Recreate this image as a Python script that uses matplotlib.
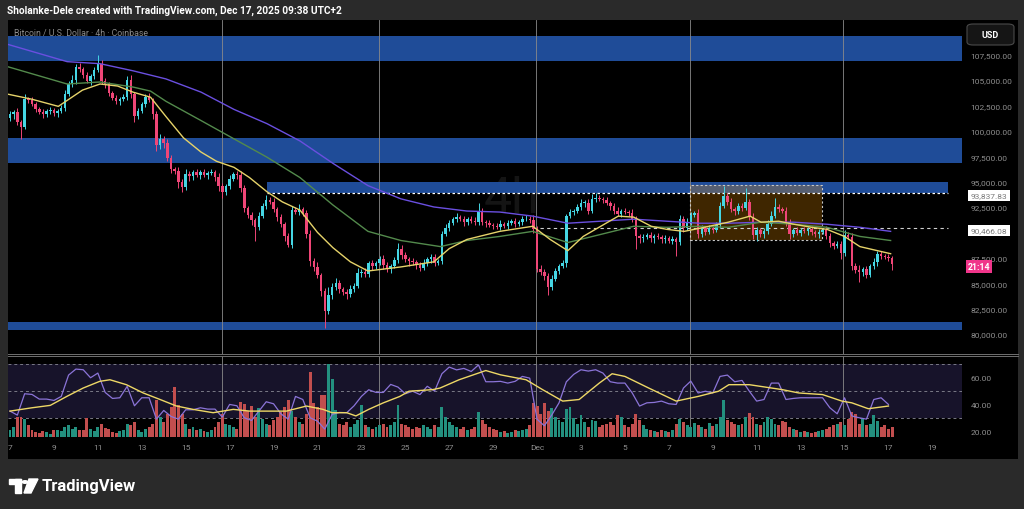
import numpy as np
import matplotlib
matplotlib.use("Agg")
import matplotlib.pyplot as plt
from matplotlib.patches import Rectangle, FancyBboxPatch, Circle, Polygon
from matplotlib.lines import Line2D

plt.rcParams['font.family'] = ['Roboto', 'DejaVu Sans']

W, H = 1024, 510

# ---- 4h candles, Nov 7 -> Dec 17 (closes in $k, wicks in $100) ----
first_open = 101.3
closes = [
    101.6, 101.8, 100.9, 100.4, 103.1, 103.0, 102.6, 102.1, 101.8, 101.6, 101.9, 102.0, 101.7, 101.9, 102.2, 103.6, 104.6, 105.0, 106.3, 106.1,
    105.5, 104.9, 105.4, 106.0, 106.6, 104.9, 104.6, 103.7, 103.2, 102.9, 103.1, 103.3, 105.0, 103.6, 101.5, 101.9, 102.6, 103.3, 103.0, 101.6,
    98.6, 99.2, 98.8, 97.3, 96.2, 96.0, 95.0, 94.5, 95.7, 95.5, 95.9, 95.6, 95.9, 95.6, 95.8, 95.9, 95.4, 94.6, 94.0, 94.6,
    95.3, 95.7, 95.6, 94.4, 92.4, 91.7, 91.2, 90.5, 91.6, 92.6, 93.2, 93.0, 92.3, 91.5, 90.8, 89.6, 88.8, 92.2, 92.0, 92.3,
    91.9, 89.8, 87.2, 86.6, 85.8, 84.2, 82.3, 83.8, 84.6, 85.0, 84.4, 84.1, 83.9, 84.4, 84.7, 86.0, 86.1, 85.9, 87.0, 86.7,
    87.0, 87.4, 86.8, 86.4, 86.7, 87.3, 88.4, 87.8, 87.4, 87.2, 87.1, 86.8, 86.5, 87.0, 87.4, 87.6, 87.0, 87.2, 89.8, 90.4,
    90.9, 91.3, 91.5, 91.3, 91.0, 91.3, 91.1, 91.0, 92.1, 91.0, 90.9, 90.7, 90.6, 90.5, 90.8, 90.6, 90.9, 91.1, 90.8, 91.0,
    91.3, 91.3, 91.2, 90.3, 86.4, 86.1, 85.7, 84.6, 85.4, 86.2, 86.7, 87.0, 91.6, 92.0, 92.1, 92.5, 92.9, 92.9, 92.1, 93.3,
    93.4, 93.3, 93.2, 92.9, 92.6, 92.1, 91.8, 92.1, 92.0, 91.9, 91.3, 89.6, 89.4, 89.5, 89.7, 89.4, 89.6, 89.5, 89.3, 89.4,
    89.2, 89.3, 89.1, 91.3, 90.4, 91.0, 91.7, 91.9, 89.8, 90.4, 90.0, 90.4, 90.2, 90.7, 92.6, 93.6, 93.0, 92.3, 92.1, 92.6,
    92.4, 93.0, 91.5, 89.7, 90.2, 89.8, 90.1, 90.8, 91.6, 92.5, 92.3, 92.1, 91.0, 89.8, 90.2, 89.9, 90.2, 90.1, 90.3, 90.0,
    89.8, 90.0, 90.2, 89.6, 89.0, 88.7, 88.9, 88.0, 89.7, 89.5, 86.7, 86.3, 86.1, 86.4, 85.8, 86.7, 87.1, 87.9, 87.7, 87.6,
    87.5, 86.9,
]
wick_up = [
    3, 2, 4, 2, 5, 2, 3, 2, 2, 3, 2, 3, 2, 2, 3, 4, 3, 5, 3, 4,
    2, 3, 2, 3, 9, 4, 3, 2, 2, 3, 2, 3, 4, 5, 2, 3, 2, 3, 4, 2,
    3, 5, 3, 4, 3, 2, 4, 3, 5, 3, 2, 3, 2, 3, 2, 3, 2, 4, 3, 2,
    3, 2, 3, 4, 3, 2, 3, 2, 4, 3, 5, 3, 4, 2, 3, 2, 3, 4, 3, 5,
    2, 3, 4, 3, 5, 2, 3, 8, 4, 5, 3, 2, 3, 4, 3, 5, 3, 4, 2, 3,
    2, 3, 4, 3, 2, 3, 6, 4, 3, 2, 3, 2, 3, 4, 2, 3, 3, 2, 3, 4,
    3, 2, 4, 2, 3, 2, 3, 4, 8, 3, 2, 3, 2, 3, 4, 2, 3, 2, 3, 2,
    3, 4, 3, 5, 3, 4, 3, 3, 4, 3, 2, 3, 2, 3, 2, 3, 4, 3, 4, 5,
    5, 3, 2, 3, 2, 3, 4, 2, 3, 2, 4, 3, 2, 3, 2, 3, 2, 3, 2, 3,
    2, 3, 2, 4, 3, 4, 3, 2, 4, 3, 2, 3, 2, 3, 4, 10, 3, 4, 2, 3,
    3, 14, 3, 4, 3, 2, 3, 4, 5, 9, 3, 2, 4, 3, 2, 3, 2, 3, 2, 3,
    2, 3, 2, 4, 3, 2, 3, 3, 5, 3, 4, 3, 5, 2, 3, 2, 4, 3, 3, 2,
    3, 2,
]
wick_dn = [
    3, 4, 3, 12, 2, 3, 2, 3, 2, 3, 2, 3, 2, 3, 2, 3, 2, 3, 4, 3,
    3, 2, 4, 3, 2, 3, 4, 3, 2, 3, 4, 2, 3, 4, 6, 3, 2, 3, 2, 4,
    6, 4, 5, 3, 4, 3, 6, 5, 3, 4, 3, 2, 3, 2, 3, 2, 3, 5, 6, 3,
    3, 2, 3, 4, 4, 3, 5, 13, 3, 2, 3, 2, 3, 4, 3, 4, 2, 3, 2, 3,
    3, 4, 5, 4, 3, 5, 17, 3, 4, 3, 4, 3, 5, 3, 3, 2, 4, 3, 3, 4,
    3, 2, 4, 3, 4, 2, 3, 4, 3, 5, 3, 4, 3, 2, 3, 4, 3, 2, 3, 2,
    3, 2, 3, 2, 4, 3, 2, 3, 3, 3, 4, 2, 3, 2, 3, 2, 3, 2, 3, 2,
    3, 2, 3, 4, 3, 3, 4, 8, 3, 2, 3, 2, 4, 2, 3, 2, 3, 4, 3, 2,
    3, 2, 3, 2, 4, 3, 2, 3, 2, 3, 3, 12, 4, 3, 2, 3, 4, 2, 3, 3,
    2, 3, 14, 3, 4, 2, 3, 2, 4, 3, 3, 2, 3, 2, 3, 2, 3, 3, 4, 3,
    3, 2, 3, 4, 5, 3, 4, 3, 2, 2, 3, 2, 4, 5, 3, 2, 3, 2, 4, 3,
    3, 4, 2, 3, 4, 3, 2, 6, 3, 2, 4, 3, 10, 4, 3, 2, 3, 4, 3, 2,
    3, 6,
]
volume = [
    20, 30, 60, 62, 55, 35, 20, 15, 12, 18, 15, 10, 20, 22, 18, 30, 35, 25, 30, 20,
    22, 57, 25, 18, 30, 40, 28, 25, 15, 12, 18, 20, 40, 35, 45, 20, 15, 25, 30, 40,
    112, 60, 45, 70, 90, 150, 97, 70, 40, 25, 30, 20, 25, 18, 15, 20, 30, 45, 70, 40,
    35, 30, 25, 107, 100, 80, 95, 60, 87, 55, 40, 35, 50, 60, 75, 90, 112, 80, 60, 45,
    40, 70, 197, 102, 90, 127, 127, 220, 174, 82, 40, 35, 45, 30, 40, 50, 97, 35, 30, 25,
    30, 35, 40, 30, 35, 45, 97, 40, 35, 30, 25, 30, 28, 35, 30, 25, 35, 30, 92, 60,
    45, 35, 30, 25, 30, 20, 25, 30, 77, 50, 40, 30, 25, 20, 15, 18, 12, 15, 20, 18,
    20, 25, 35, 102, 95, 70, 102, 80, 88, 60, 50, 45, 85, 92, 57, 40, 67, 45, 30, 50,
    47, 30, 35, 40, 45, 35, 67, 60, 35, 30, 40, 70, 50, 35, 25, 20, 18, 15, 20, 18,
    15, 20, 40, 55, 45, 35, 30, 42, 35, 30, 25, 42, 32, 40, 60, 112, 50, 45, 40, 35,
    38, 62, 72, 60, 40, 35, 45, 62, 55, 40, 35, 47, 45, 30, 25, 20, 15, 18, 15, 12,
    15, 18, 20, 25, 30, 35, 40, 45, 35, 55, 77, 70, 40, 57, 35, 40, 67, 47, 30, 35,
    25, 30,
]

# ---- moving averages (day since Nov 7, $k) ----
ma_fast_day = [-0.1, 1.0, 2.2, 3.3, 4.1, 4.9, 5.6, 6.4, 7.1, 7.9, 8.7, 9.4, 10.2, 10.9, 11.7, 12.4, 13.2, 14.0, 14.7, 15.5,
               16.3, 17.8, 19.3, 20.0, 20.8, 22.3, 23.8, 24.6, 25.4, 26.1, 26.9, 27.7, 28.4, 29.2, 29.9, 30.7, 31.4, 32.7,
               33.7, 34.2, 35.0, 35.7, 36.5, 37.2, 38.0, 38.7, 40.1]
ma_fast = [103.6, 103.1, 102.4, 104.0, 104.6, 104.4, 103.8, 103.3, 101.4, 99.3, 97.9, 97.0, 96.4, 95.4, 94.0, 93.0, 92.2,
           90.0, 88.5, 87.1, 86.2, 86.6, 87.1, 88.4, 89.3, 90.1, 90.6, 89.3, 88.2, 89.6, 90.6, 91.6, 91.5, 90.6, 90.3, 90.1,
           90.4, 91.0, 91.6, 91.0, 91.1, 90.8, 90.5, 90.3, 89.6, 88.6, 87.9]
ma_mid_day = [-0.1, 2.6, 4.1, 5.6, 6.4, 7.1, 8.7, 10.2, 11.7, 13.2, 14.7, 16.3, 17.8, 19.6, 20.8, 22.3, 23.8, 25.4, 26.9,
              28.4, 29.9, 31.4, 32.7, 34.2, 35.7, 37.2, 38.7, 40.1]
ma_mid = [106.3, 104.6, 104.8, 104.3, 103.9, 102.9, 101.0, 99.2, 97.4, 95.4, 92.7, 90.1, 89.2, 88.6, 89.2, 89.6, 90.1,
          89.0, 89.8, 90.6, 90.5, 90.6, 90.5, 91.0, 90.8, 90.5, 89.6, 89.2]
ma_slow_day = [-0.1, 2.6, 4.1, 5.6, 7.1, 8.7, 10.2, 11.7, 13.2, 14.7, 16.3, 17.8, 19.3, 20.8, 22.3, 23.8, 25.4, 26.9, 28.4,
               29.9, 31.4, 32.7, 34.2, 35.7, 37.2, 38.7, 40.1]
ma_slow = [108.5, 106.8, 106.6, 105.9, 105.1, 103.8, 102.1, 100.7, 99.0, 96.8, 94.6, 93.3, 92.5, 92.1, 92.0, 91.6, 90.9,
           91.1, 91.3, 91.1, 90.9, 90.9, 91.0, 91.0, 90.8, 90.5, 90.1]

# ---- RSI (every 2nd candle) and its MA (candle index) ----
rsi = [35, 32, 48, 47.5, 44, 44, 43, 46, 62, 66.5, 66, 60, 63.5, 49, 44.5, 45, 53.5, 39, 45, 45,
       29, 35.5, 31, 29, 36, 36, 37.5, 36.5, 36.5, 30.5, 40, 39, 30, 28, 35, 42, 40.5, 33, 29, 46,
       43.7, 30, 27.5, 21.5, 32.5, 34, 33.8, 39, 46, 51, 49, 49, 55, 53, 48, 49.9, 47.4, 53.6, 50, 63,
       68, 65.9, 67, 64.7, 69.6, 57, 57, 57.3, 56, 57.3, 61, 59.7, 28.9, 24, 32, 41.2, 57, 62.5, 66, 65,
       66, 63.5, 57, 56, 56, 48.6, 38.8, 41.2, 41.5, 42.5, 40.5, 40, 52.3, 57.5, 48.6, 49.9, 48.6, 61, 62, 57,
       58, 49.9, 42.5, 43.7, 56, 56, 43.7, 44.5, 45, 45, 45, 45, 37.5, 33, 45, 31.4, 30, 29, 43.7, 45,
       40]
rsi_ma_idx = [0, 6, 11, 15.5, 20, 24.5, 27.3, 31.8, 36.4, 41, 45.5, 50, 55.5, 61, 65.5, 70, 75.5, 81, 85.5, 88, 92, 94.5,
              98, 102, 106.5, 109, 115.5, 117.5, 122.7, 130, 134, 141, 145.5, 151, 155.5, 161, 164.5, 168, 174.5, 182, 188,
              193.6, 196.4, 202, 211, 215.5, 222, 227.3, 230, 234.5, 240]
rsi_ma = [35, 37.5, 39.3, 46, 52.3, 57.3, 58.5, 54.8, 48.6, 43.7, 38.8, 36.3, 33.8, 36.3, 35, 35, 35, 38.8, 36.3, 33.8, 33.8,
          31.4, 36.3, 41.2, 46, 49.9, 51.1, 52.3, 58.5, 65.4, 62.2, 58.5, 51.1, 42.5, 43.7, 56, 63, 61, 52.3, 42.5, 46, 49.9,
          54.8, 54.8, 51.1, 48.6, 47.4, 42.5, 41.2, 36.8, 38.8]

# ---- drawings ----
zones_full = [(106863, 109323), (96826, 99287), (80394, 81181)]
zone_part = (93837.83, 94957)
box_lo, box_hi = 89250, 94662
level_a = 93837.83
level_b = 90466.08
week_days = [9.65, 16.8, 23.95, 30.95, 37.95]   # weekly separators as placed on the chart
date_days = list(range(0, 44, 2))
date_labels = ['7', '9', '11', '13', '15', '17', '19', '21', '23', '25', '27', '29',
               'Dec', '3', '5', '7', '9', '11', '13', '15', '17', '19']
price_ticks = [80000, 82500, 85000, 87500, 92500, 95000, 97500, 100000, 102500, 105000, 107500]
rsi_ticks = [20, 40, 60]

UP, DN = '#45d6e4', '#ef4677'
VUP, VDN = '#23907f', '#c24e4e'
GREY = '#8e8e8e'


def fr(x0, y0, x1, y1):
    return [x0 / W, 1 - y1 / H, (x1 - x0) / W, (y1 - y0) / H]


def ftext(x, y, s, **kw):
    return fig.text(x / W, 1 - y / H, s, **kw)


fig = plt.figure(figsize=(W / 100, H / 100), dpi=100, facecolor='#2a2a2a')
fig.add_artist(Rectangle((8 / W, 1 - 460 / H), 1010 / W, 439 / H, transform=fig.transFigure,
                         facecolor='black', edgecolor='none', zorder=-5))

XL = (-0.55, 260.1)

# ---------- price pane ----------
ax = fig.add_axes(fr(8, 21, 962, 355))
ax.set_facecolor('black')
for s in ax.spines.values():
    s.set_visible(False)
ax.set_xlim(*XL)
ax.set_ylim(78032, 110898)
ax.set_xticks([])
ax.yaxis.tick_right()
ax.set_yticks(price_ticks)
ax.set_yticklabels([f'{v:,.2f}' for v in price_ticks])
ax.tick_params(axis='y', length=0, pad=6, labelsize=6, labelcolor=GREY)

ax.text(137, 93400, '4h', fontsize=36, color='#141414', ha='center', va='center', zorder=0)

for lo, hi in zones_full:
    ax.axhspan(lo, hi, color='#1f4c98', lw=0, zorder=1)
ax.add_patch(Rectangle((70.2, zone_part[0]), 256.3 - 70.2, zone_part[1] - zone_part[0],
                       facecolor='#1f4c98', edgecolor='none', zorder=1))
ax.add_patch(Rectangle((185.8, box_lo), 221.9 - 185.8, box_hi - box_lo, facecolor='#ff9800', alpha=0.25,
                       edgecolor='none', zorder=2))
ax.add_patch(Rectangle((185.8, box_lo), 221.9 - 185.8, box_hi - box_lo, facecolor='none',
                       edgecolor='#c8c8c8', lw=0.8, ls=(0, (2, 2)), zorder=2))
ax.hlines(level_a, 70.2, 256.3, color='white', lw=0.9, ls=(0, (2, 2)), zorder=3)
ax.hlines(level_b, 144.8, 256.3, color='#d0d0d0', lw=0.8, ls=(0, (3, 3)), zorder=3)

for d in week_days:
    ax.axvline(d * 6, color='#8a8a8a', lw=0.6, zorder=1.5)

n = len(closes)
c = np.array(closes) * 1000
o = np.r_[first_open * 1000, c[:-1]]
hi = np.maximum(o, c) + np.array(wick_up[:n]) * 100
lo = np.minimum(o, c) - np.array(wick_dn[:n]) * 100
idx = np.arange(n)
col = np.where(c >= o, UP, DN)
ax.vlines(idx, lo, hi, colors=col, lw=0.7, zorder=4)
ax.bar(idx, np.maximum(np.abs(c - o), 50), bottom=np.minimum(o, c), width=0.68, color=col, lw=0, zorder=5)

ax.plot(np.array(ma_slow_day) * 6, np.array(ma_slow) * 1000, color='#6a4fe0', lw=1.0, zorder=6)
ax.plot(np.array(ma_mid_day) * 6, np.array(ma_mid) * 1000, color='#538a4c', lw=1.0, zorder=6)
ax.plot(np.array(ma_fast_day) * 6, np.array(ma_fast) * 1000, color='#e6d36a', lw=1.0, zorder=6)

# ---------- RSI / volume pane ----------
RL = (15.6, 76.3)
axb = fig.add_axes(fr(8, 357, 962, 438))
axb.set_facecolor('black')
for s in axb.spines.values():
    s.set_visible(False)
axb.set_xlim(*XL)
axb.set_ylim(*RL)
axb.axhspan(30, 70, color='#17132a', lw=0)
for lvl in (30, 50, 70):
    axb.axhline(lvl, color='#7a7a86', lw=0.7, ls=(0, (3, 3)))
for d in week_days:
    axb.axvline(d * 6, color='#8a8a8a', lw=0.6)
axb.yaxis.tick_right()
axb.set_yticks(rsi_ticks)
axb.set_yticklabels([f'{v:.2f}' for v in rsi_ticks])
axb.tick_params(axis='y', length=0, pad=6, labelsize=6, labelcolor=GREY)
axb.set_xticks(np.array(date_days) * 6)
axb.set_xticklabels(date_labels)
axb.tick_params(axis='x', length=0, pad=5, labelsize=6, labelcolor=GREY)

axv = fig.add_axes(fr(8, 357, 962, 438))
axv.set_facecolor('none')
axv.set_axis_off()
axv.set_xlim(*XL)
axv.set_ylim(0, 245)
vcol = np.where(c >= o, VUP, VDN)
axv.bar(idx, volume[:n], width=0.8, color=vcol, lw=0)

axr = fig.add_axes(fr(8, 357, 962, 438))
axr.set_facecolor('none')
axr.set_axis_off()
axr.set_xlim(*XL)
axr.set_ylim(*RL)
axr.plot(np.arange(0, 2 * len(rsi), 2), rsi, color='#8b74d8', lw=0.9)
axr.plot(rsi_ma_idx, rsi_ma, color='#eed866', lw=1.0)

# pane separator
for yy in (354.5, 356.5):
    fig.add_artist(Line2D([8 / W, 1018 / W], [1 - yy / H] * 2, color='#707070', lw=0.7))

# ---------- labels ----------
ftext(7, 10.5, 'Sholanke-Dele created with TradingView.com, Dec 17, 2025 09:38 UTC+2',
      fontsize=7.3, color='white', fontweight='bold', va='center', ha='left')
ftext(14, 34, 'Bitcoin / U.S. Dollar · 4h · Coinbase', fontsize=6.3, color='#8a8a8a', va='center', ha='left')

fig.add_artist(FancyBboxPatch((967 / W, 1 - 46 / H), 47 / W, 21 / H, boxstyle='round,pad=0,rounding_size=0.006',
                              transform=fig.transFigure, facecolor='#151515', edgecolor='#4a4a4a', lw=0.8))
ftext(990.5, 35.5, 'USD', fontsize=6.5, color='white', fontweight='bold', ha='center', va='center')

for val, yy in ((level_a, 196), (level_b, 231)):
    ftext(989, yy, f'{val:,.2f}', fontsize=6, color='#7a7a7a', ha='center', va='center',
          bbox=dict(boxstyle='square,pad=0.3', facecolor='white', edgecolor='none'))
ftext(979, 267.5, '21:14', fontsize=6.3, color='white', fontweight='bold', ha='center', va='center',
      bbox=dict(boxstyle='square,pad=0.25', facecolor='#f0358a', edgecolor='none'))

# ---------- footer logo ----------
fig.add_artist(Rectangle((9 / W, 1 - 485 / H), 12 / W, 5 / H, transform=fig.transFigure, color='white'))
fig.add_artist(Rectangle((15 / W, 1 - 494 / H), 6 / W, 14 / H, transform=fig.transFigure, color='white'))
fig.add_artist(Circle((25 / W, 1 - 483 / H), 2.6 / W, transform=fig.transFigure, color='white'))
fig.add_artist(Polygon([(29 / W, 1 - 480 / H), (38 / W, 1 - 480 / H), (31 / W, 1 - 494 / H), (24 / W, 1 - 494 / H)],
                       closed=True, transform=fig.transFigure, color='white'))
ftext(42, 487, 'TradingView', fontsize=12, color='white', fontweight='bold', ha='left', va='center')

fig.savefig('out.png', dpi=100, facecolor=fig.get_facecolor())
